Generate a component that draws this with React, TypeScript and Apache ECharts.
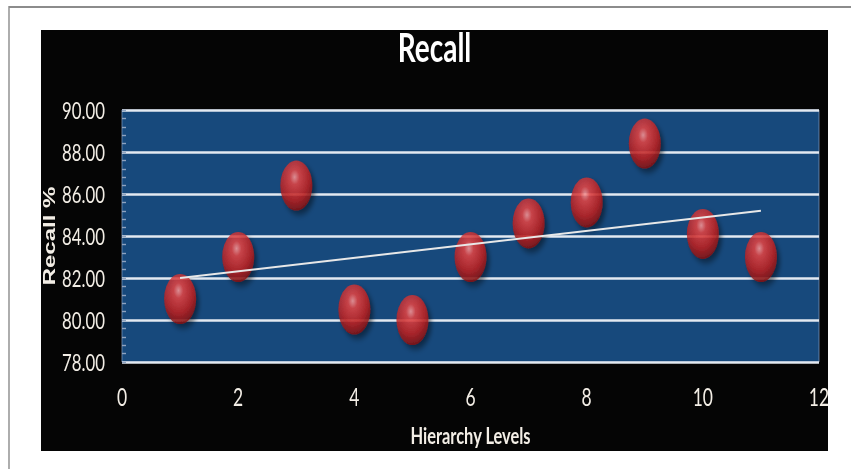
import React, { useEffect, useRef } from "react";
import * as echarts from "echarts";

const levels = [1, 2, 3, 4, 5, 6, 7, 8, 9, 10, 11];
const recall = [81.0, 83.0, 86.4, 80.5, 80.0, 83.0, 84.6, 85.6, 88.4, 84.1, 83.0];
const xTicks = { min: 0, max: 12, interval: 2 };
const yTicks = { min: 78, max: 90, interval: 2 };
const titleText = "Recall";
const xName = "Hierarchy Levels";
const yName = "Recall %";

// linear trend line (least squares) as in the spreadsheet chart
function trend(xs: number[], ys: number[]) {
  const n = xs.length;
  const mx = xs.reduce((a, b) => a + b, 0) / n;
  const my = ys.reduce((a, b) => a + b, 0) / n;
  let sxy = 0;
  let sxx = 0;
  for (let i = 0; i < n; i++) {
    sxy += (xs[i] - mx) * (ys[i] - my);
    sxx += (xs[i] - mx) * (xs[i] - mx);
  }
  const k = sxy / sxx;
  const b = my - k * mx;
  const x0 = xs[0];
  const x1 = xs[n - 1];
  return [
    [x0, k * x0 + b],
    [x1, k * x1 + b],
  ];
}

// the reference image is horizontally squeezed; render wider and squeeze with CSS
const S = 0.7;
const W = 1216;
const H = 469;
const px = (v: number) => v / S;

const FONT = "Lato, 'Open Sans', 'Liberation Sans', sans-serif";
const CREAM = "#f3eee6";

export default function App() {
  const ref = useRef<HTMLDivElement>(null);
  useEffect(() => {
    if (!ref.current) return;
    const chart = echarts.init(ref.current, null, { renderer: "svg" });
    const ball = new echarts.graphic.RadialGradient(0.45, 0.33, 0.75, [
      { offset: 0, color: "#ff9c9c" },
      { offset: 0.2, color: "#e84646" },
      { offset: 0.6, color: "#c22222" },
      { offset: 1, color: "#6e0c0c" },
    ]);
    chart.setOption({
      animation: false,
      backgroundColor: "#ffffff",
      title: {
        text: titleText,
        left: px(431),
        textAlign: "center",
        top: 21,
        textStyle: {
          color: "#ffffff",
          fontFamily: FONT,
          fontWeight: "bold",
          fontSize: 40,
        },
      },
      graphic: [
        {
          type: "polyline",
          z: -10,
          shape: { points: [[px(9), H], [px(9), 7], [W, 7]] },
          style: { stroke: "#8c8c8c", lineWidth: 2, fill: null },
        },
        {
          type: "rect",
          z: -10,
          shape: { x: px(41), y: 30, width: px(828) - px(41), height: 421 },
          style: { fill: "#050505" },
        },
      ],
      grid: {
        left: px(122),
        right: W - px(819),
        top: 110,
        bottom: H - 362,
        show: true,
        backgroundColor: "#17497c",
        borderColor: "#6f8db3",
        borderWidth: 1,
        outerBoundsMode: "none",
        containLabel: false,
      },
      xAxis: {
        type: "value",
        min: xTicks.min,
        max: xTicks.max,
        interval: xTicks.interval,
        name: xName,
        nameLocation: "middle",
        nameGap: 61,
        nameMoveOverlap: false,
        nameTextStyle: {
          color: CREAM,
          fontFamily: FONT,
          fontWeight: "bold",
          fontSize: 23.5,
        },
        axisLine: { show: false },
        axisTick: { show: false },
        splitLine: { show: false },
        axisLabel: {
          color: CREAM,
          fontFamily: FONT,
          fontSize: 25,
          margin: 22,
        },
      },
      yAxis: {
        type: "value",
        min: yTicks.min,
        max: yTicks.max,
        interval: yTicks.interval,
        name: yName,
        nameLocation: "middle",
        nameGap: 92,
        nameMoveOverlap: false,
        nameTextStyle: {
          color: CREAM,
          fontFamily: "'Liberation Sans', Arial, sans-serif",
          fontWeight: "bold",
          fontSize: 24,
        },
        axisLine: { show: false },
        axisTick: {
          show: true,
          inside: true,
          length: px(4),
          lineStyle: { color: "#8fa3c0", width: 1.4 },
        },
        minorTick: {
          show: true,
          splitNumber: 5,
          length: px(4),
          lineStyle: { color: "#8fa3c0", width: 1.4 },
        },
        splitLine: {
          show: true,
          lineStyle: { color: "#e3e9f1", width: 2.5 },
        },
        axisLabel: {
          color: CREAM,
          fontFamily: FONT,
          fontSize: 24,
          margin: px(17),
          formatter: (v: number) => v.toFixed(2),
        },
      },
      series: [
        {
          type: "scatter",
          name: "Recall",
          data: levels.map((x, i) => [x, recall[i]]),
          symbol: "circle",
          symbolSize: [px(32), 50],
          z: 2,
          itemStyle: {
            color: ball,
            shadowBlur: 6,
            shadowColor: "rgba(0,0,0,0.55)",
            shadowOffsetX: px(3),
            shadowOffsetY: 4,
          },
        },
        {
          type: "line",
          name: "Trend",
          data: trend(levels, recall),
          symbol: "none",
          z: 5,
          lineStyle: { color: "#e8e8e8", width: 2 },
        },
      ],
    });
    return () => chart.dispose();
  }, []);
  return (
    <div
      style={{
        position: "absolute",
        left: 0,
        top: 0,
        width: 851,
        height: H,
        overflow: "hidden",
      }}
    >
      <div
        ref={ref}
        style={{
          width: W,
          height: H,
          transform: `scaleX(${S})`,
          transformOrigin: "0 0",
        }}
      />
    </div>
  );
}
